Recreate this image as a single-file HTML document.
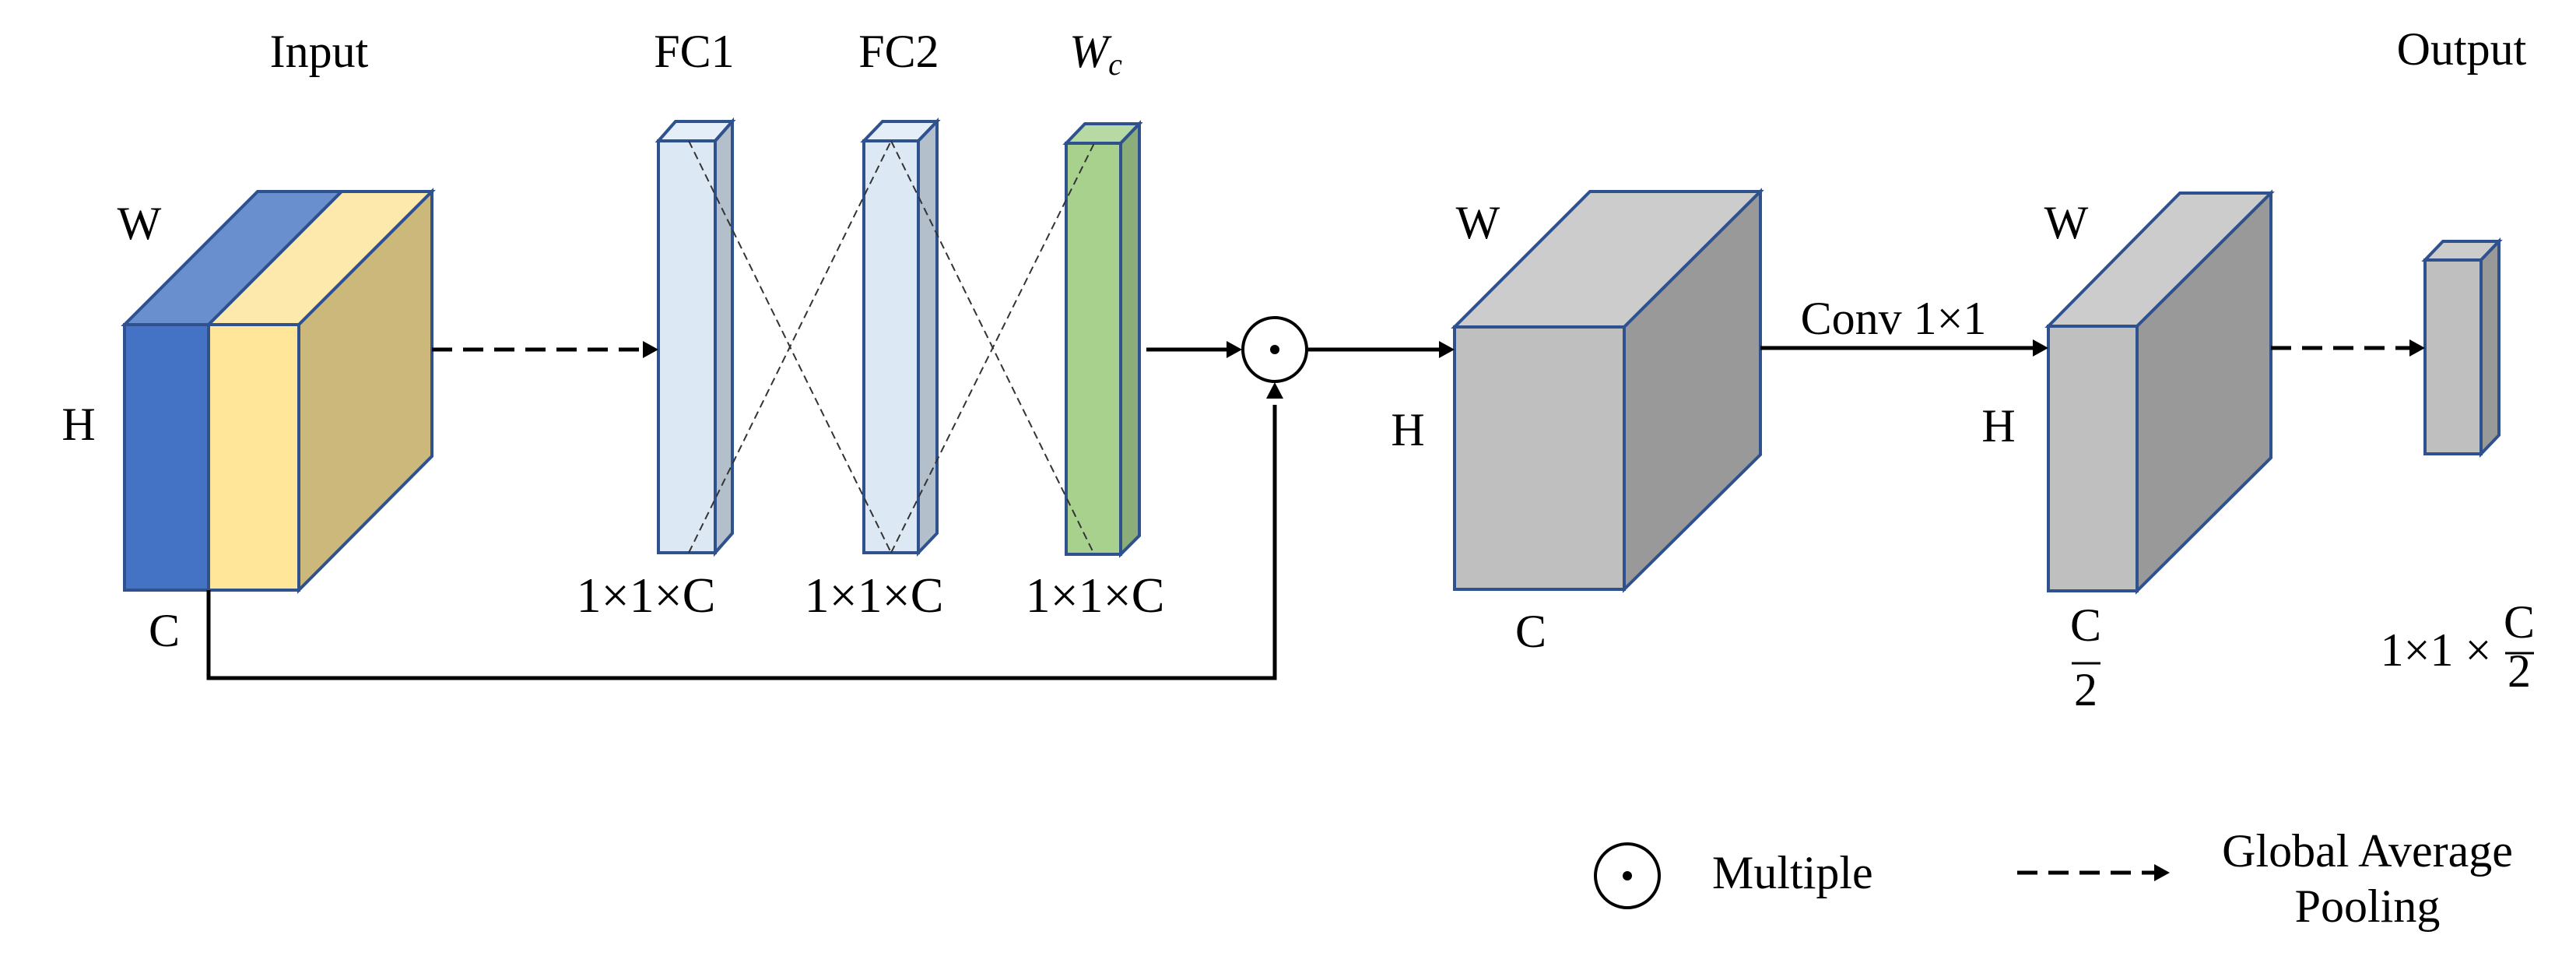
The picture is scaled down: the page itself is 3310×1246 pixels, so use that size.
<!DOCTYPE html>
<html><head><meta charset="utf-8"><style>
html,body{margin:0;padding:0;background:#fff;}
svg{display:block;}
text{font-family:"Liberation Serif",serif;fill:#000;}
</style></head><body>
<svg width="3310" height="1246" viewBox="0 0 3310 1246" xmlns="http://www.w3.org/2000/svg">
<g stroke="#2f528f" stroke-width="4" stroke-linejoin="miter">
<polygon points="160,417 268,417 439,246 331,246" fill="#6a8fce"/>
<polygon points="268,417 384,417 555,246 439,246" fill="#fee9ac"/>
<polygon points="384,417 555,246 555,586 384,758" fill="#ccb87a"/>
<rect x="160" y="417" width="108" height="341" fill="#4472c4"/>
<rect x="268" y="417" width="116" height="341" fill="#ffe699"/>
<polygon points="846,181 919,181 941,156 868,156" fill="#e4eef9"/>
<polygon points="919,181 941,156 941,685 919,710" fill="#b4bfcc"/>
<rect x="846" y="181" width="73" height="529" fill="#dde8f5"/>
<polygon points="1110,181 1180,181 1204,156 1134,156" fill="#e4eef9"/>
<polygon points="1180,181 1204,156 1204,685 1180,710" fill="#b4bfcc"/>
<rect x="1110" y="181" width="70" height="529" fill="#dde8f5"/>
<polygon points="1370,184 1440,184 1464,159 1394,159" fill="#b7d9a4"/>
<polygon points="1440,184 1464,159 1464,688 1440,712" fill="#8aad79"/>
<rect x="1370" y="184" width="70" height="528" fill="#a9d18e"/>
<polygon points="1869,420 2087,420 2262,246 2043,246" fill="#cccccc"/>
<polygon points="2087,420 2262,246 2262,584 2087,757" fill="#999999"/>
<rect x="1869" y="420" width="218" height="337" fill="#bfbfbf"/>
<polygon points="2632,419 2746,419 2918,248 2801,248" fill="#cccccc"/>
<polygon points="2746,419 2918,248 2918,588 2746,759" fill="#999999"/>
<rect x="2632" y="419" width="114" height="340" fill="#bfbfbf"/>
<polygon points="3116,334 3188,334 3211,310 3139,310" fill="#cccccc"/>
<polygon points="3188,334 3211,310 3211,559 3188,583" fill="#999999"/>
<rect x="3116" y="334" width="72" height="249" fill="#bfbfbf"/>
</g>
<g stroke="#333" stroke-width="2" stroke-dasharray="10,6" fill="none">
<line x1="885" y1="181" x2="1145" y2="710"/>
<line x1="885" y1="710" x2="1145" y2="181"/>
<line x1="1145" y1="181" x2="1406" y2="712"/>
<line x1="1145" y1="710" x2="1406" y2="184"/>
</g>
<g stroke="#000" stroke-width="5" fill="none">
<line x1="555" y1="449" x2="830" y2="449" stroke-dasharray="26,14"/>
<line x1="1473" y1="449" x2="1578" y2="449"/>
<polyline points="268,758 268,871 1638,871 1638,520"/>
<line x1="1681" y1="449" x2="1852" y2="449"/>
<line x1="2262" y1="447" x2="2614" y2="447"/>
<line x1="2918" y1="447" x2="3100" y2="447" stroke-dasharray="26,14"/>
<line x1="2592" y1="1121" x2="2772" y2="1121" stroke-dasharray="26,14"/>
<circle cx="1638" cy="449" r="41" stroke-width="4"/>
<circle cx="2091" cy="1125" r="41" stroke-width="4"/>
</g>
<g fill="#000">
<polygon points="846,449 826,438 826,460"/>
<polygon points="1596,449 1576,438 1576,460"/>
<polygon points="1638,491 1627,512 1649,512"/>
<polygon points="1869,449 1849,438 1849,460"/>
<polygon points="2632,447 2612,436 2612,458"/>
<polygon points="3116,447 3096,436 3096,458"/>
<polygon points="2788,1121 2768,1110 2768,1132"/>
<circle cx="1638" cy="449" r="6"/>
<circle cx="2091" cy="1125" r="6"/>
</g>
<g font-size="60" text-anchor="middle">
<text x="410" y="86">Input</text>
<text x="892" y="86">FC1</text>
<text x="1155" y="86">FC2</text>
<text x="1408" y="86" font-style="italic">W<tspan font-size="40" dy="10">c</tspan></text>
<text x="3163" y="83">Output</text>
<text x="830" y="786" font-size="64">1×1×C</text>
<text x="1123" y="786" font-size="64">1×1×C</text>
<text x="1407" y="786" font-size="64">1×1×C</text>
<text x="179" y="307">W</text>
<text x="101" y="565">H</text>
<text x="211" y="830">C</text>
<text x="1899" y="306">W</text>
<text x="1809" y="572">H</text>
<text x="1967" y="831">C</text>
<text x="2433" y="429">Conv 1×1</text>
<text x="2655" y="306">W</text>
<text x="2568" y="567">H</text>
<text x="2680" y="823">C</text>
<text x="2680" y="906">2</text>
<text x="3130" y="855">1×1 ×</text>
<text x="3237" y="819">C</text>
<text x="3237" y="882">2</text>
<text x="3042" y="1113">Global Average</text>
<text x="3042" y="1184">Pooling</text>
<text x="2200" y="1141" text-anchor="start">Multiple</text>
</g>
<line x1="2662" y1="852" x2="2699" y2="852" stroke="#000" stroke-width="3"/>
<line x1="3219" y1="839" x2="3256" y2="839" stroke="#000" stroke-width="3"/>
</svg>
</body></html>
